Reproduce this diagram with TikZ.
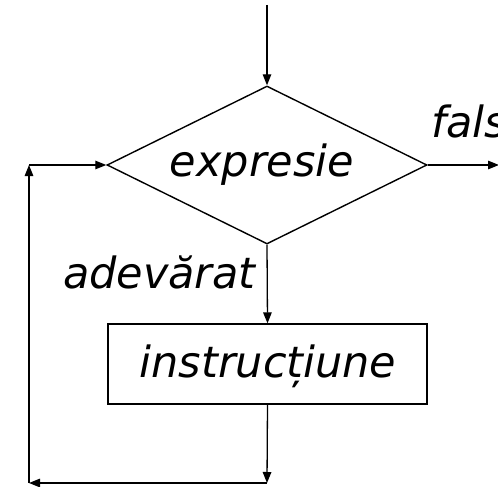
\documentclass[tikz,border=0pt]{standalone}
\usepackage{fontspec}
\setmainfont{DejaVu Sans}
\usetikzlibrary{shapes.geometric,arrows.meta}
\tikzset{>={Triangle[length=11pt,width=8.5pt]}}
\begin{document}
\begin{tikzpicture}[
  lbl/.style={font=\fontsize{43}{50}\selectfont\itshape, inner sep=0pt},
  conn/.style={line width=1.3pt, ->},
  decision/.style={diamond, draw, line width=1.4pt, minimum width=320pt, minimum height=158pt, inner sep=0pt},
  process/.style={rectangle, draw, line width=1.3pt, minimum width=319pt, minimum height=80pt, inner sep=0pt}]
\begin{scope}[x=1pt,y=-1pt]
\coordinate (c1) at (0,0);
\coordinate (c2) at (498,487);
\fill[white] (0,0) rectangle (498,487);
\node[decision] (d) at (267,165) {};
\node[lbl, anchor=base] (dt) at (262,176) {expresie};
\node[process] (b) at (267.5,364) {};
\node[lbl, anchor=base] (bt) at (268,377) {instrucțiune};
\node[lbl, anchor=base west] (f) at (431,137) {fals};
\node[lbl, anchor=base east] (a) at (256,288) {adevărat};
\coordinate (top) at (267,5);
\coordinate (out) at (499,165);
\coordinate (br) at (267,483);
\coordinate (bl) at (29,483);
\coordinate (tl) at (29,165);
\end{scope}
\draw[conn] (top) -- (d.north);
\draw[conn] (d.east) -- (out);
\draw[conn] (d.south) -- (b.north);
\draw[conn] (b.south) -- (br);
\draw[conn] (br) -- (bl);
\draw[conn] (bl) -- (tl);
\draw[conn] (tl) -- (d.west);
\pgfresetboundingbox
\useasboundingbox (c1) rectangle (c2);
\end{tikzpicture}
\end{document}
